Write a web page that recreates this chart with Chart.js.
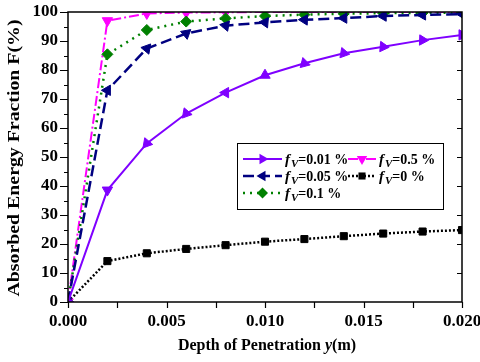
<!DOCTYPE html>
<html>
<head>
<meta charset="utf-8">
<script src="https://cdn.jsdelivr.net/npm/chart.js@4/dist/chart.umd.min.js"></script>
<style>
  html, body { margin: 0; padding: 0; background: #fff; }
  #wrap { width: 480px; height: 362px; }
</style>
</head>
<body>
<div id="wrap"><canvas id="c" width="480" height="362"></canvas></div>
<script>
// depth of penetration y (m)
const depth = [0, 0.002, 0.004, 0.006, 0.008, 0.010, 0.012, 0.014, 0.016, 0.018, 0.020];

// absorbed energy fraction F (%) for each volume fraction f_V
const f001 = [0, 38.6, 54.7, 65.0, 72.2, 78.2, 82.3, 85.8, 88.0, 90.3, 92.1];
const f005 = [0, 73.0, 87.4, 92.6, 95.3, 96.4, 97.3, 97.9, 98.6, 99.0, 99.3];
const f01  = [0, 85.4, 93.8, 96.7, 97.8, 98.6, 99.1, 99.4, 99.6, 99.7, 99.8];
const f05  = [0, 97.0, 99.5, 99.8, 99.9, 100, 100, 100, 100, 100, 100];
const f0   = [0, 14.1, 16.8, 18.3, 19.6, 20.8, 21.7, 22.7, 23.6, 24.3, 24.8];

const seriesNames = ['0.01', '0.05', '0.1', '0.5', '0'];

const xTicks = [0, 0.005, 0.010, 0.015, 0.020];
const yTicks = [0, 10, 20, 30, 40, 50, 60, 70, 80, 90, 100];

const FONT = "'Liberation Serif', 'Times New Roman', serif";

function pts(ys) {
    return ys.map((v, i) => ({ x: depth[i], y: v }));
}

const datasets = [
    { label: seriesNames[0], data: pts(f001), borderColor: '#7f00ff', backgroundColor: '#7f00ff',
      borderWidth: 2, borderDash: [], pointStyle: 'triangle', pointRadius: 6,
      pointRotation: [90, 180, 220, 220, 150, 120, 105, 100, 95, 92, 90] },
    { label: seriesNames[1], data: pts(f005), borderColor: '#000080', backgroundColor: '#000080',
      borderWidth: 2.5, borderDash: [11, 5], pointStyle: 'triangle', pointRadius: 6,
      pointRotation: [270, 30, 40, 290, 280, 275, 272, 270, 270, 270, 270] },
    { label: seriesNames[2], data: pts(f01), borderColor: '#008000', backgroundColor: '#008000',
      borderWidth: 2.5, borderDash: [2, 5], pointStyle: 'rectRot', pointRadius: 5.5, pointRotation: 0 },
    { label: seriesNames[3], data: pts(f05), borderColor: '#ff00ff', backgroundColor: '#ff00ff',
      borderWidth: 2, borderDash: [10, 3, 2, 3], pointStyle: 'triangle', pointRadius: 6, pointRotation: 180 },
    { label: seriesNames[4], data: pts(f0), borderColor: '#000000', backgroundColor: '#000000',
      borderWidth: 2.5, borderDash: [2, 2], pointStyle: 'rect', pointRadius: 5, pointRotation: 0 }
];
datasets.forEach(d => { d.tension = 0; d.pointBorderWidth = 1; d.fill = false; });

function marker(ctx, style, x, y, r, rotDeg) {
    const rad = rotDeg * Math.PI / 180;
    ctx.beginPath();
    if (style === 'triangle') {
        for (let k = 0; k < 3; k++) {
            const a = rad + k * 2 * Math.PI / 3;
            const px = x + Math.sin(a) * r, py = y - Math.cos(a) * r;
            if (k === 0) ctx.moveTo(px, py); else ctx.lineTo(px, py);
        }
    } else if (style === 'rectRot') {
        ctx.moveTo(x, y - r); ctx.lineTo(x + r, y); ctx.lineTo(x, y + r); ctx.lineTo(x - r, y);
    } else {
        const s = r * Math.SQRT1_2;
        ctx.rect(x - s, y - s, 2 * s, 2 * s);
    }
    ctx.closePath();
    ctx.fill();
}

// "f_V=..." with italic f and subscript V
function drawFv(ctx, x, y, value) {
    ctx.textBaseline = 'alphabetic';
    ctx.textAlign = 'left';
    ctx.font = 'italic bold 15px ' + FONT;
    ctx.fillText('f', x, y);
    x += ctx.measureText('f').width + 1;
    ctx.font = 'italic bold 11px ' + FONT;
    ctx.fillText('V', x, y + 3);
    x += ctx.measureText('V').width;
    ctx.font = 'bold 14px ' + FONT;
    ctx.fillText('=' + value + ' %', x, y);
}

const frame = {
    id: 'frame',
    afterDraw(chart) {
        const ctx = chart.ctx;
        const a = chart.chartArea;
        const xs = chart.scales.x, ys = chart.scales.y;
        ctx.save();
        ctx.strokeStyle = '#000';
        ctx.fillStyle = '#000';
        ctx.lineWidth = 1.5;
        ctx.setLineDash([]);
        ctx.strokeRect(a.left, a.top, a.right - a.left, a.bottom - a.top);

        ctx.lineWidth = 1.2;
        ctx.beginPath();
        for (let v = 0; v <= 100; v += 5) {
            const py = Math.round(ys.getPixelForValue(v)) + 0.5;
            const len = v % 10 === 0 ? 8 : 4;
            ctx.moveTo(a.left - len, py); ctx.lineTo(a.left, py);
            if (v % 10 === 0 && v > 0 && v < 100) { ctx.moveTo(a.right, py); ctx.lineTo(a.right - 5, py); }
        }
        for (let v = 0; v <= 0.0201; v += 0.0025) {
            const px = Math.round(xs.getPixelForValue(v)) + 0.5;
            ctx.moveTo(px, a.bottom); ctx.lineTo(px, a.bottom + 6);
        }
        ctx.stroke();

        // axis titles
        ctx.textBaseline = 'middle';
        ctx.font = 'bold 16px ' + FONT;
        const t1 = 'Depth of Penetration ', t2 = 'y', t3 = '(m)';
        const w1 = ctx.measureText(t1).width, w3 = ctx.measureText(t3).width;
        ctx.font = 'italic bold 16px ' + FONT;
        const w2 = ctx.measureText(t2).width;
        let tx = (a.left + a.right) / 2 - (w1 + w2 + w3) / 2 + 2;
        const ty = 346;
        ctx.textAlign = 'left';
        ctx.font = 'bold 16px ' + FONT; ctx.fillText(t1, tx, ty); tx += w1;
        ctx.font = 'italic bold 16px ' + FONT; ctx.fillText(t2, tx, ty); tx += w2;
        ctx.font = 'bold 16px ' + FONT; ctx.fillText(t3, tx, ty);

        // vertical title, stretched along its run to span the plot height
        const yTitle = 'Absorbed Energy Fraction F(%)';
        ctx.save();
        ctx.translate(15, (a.top + a.bottom) / 2 + 1);
        ctx.rotate(-Math.PI / 2);
        ctx.font = 'bold 17px ' + FONT;
        ctx.scale(277 / ctx.measureText(yTitle).width, 1);
        ctx.textAlign = 'center';
        ctx.fillText(yTitle, 0, 0);
        ctx.restore();

        // legend box
        const box = { l: 237, t: 143, r: 443, b: 209 };
        ctx.fillStyle = '#fff';
        ctx.fillRect(box.l, box.t, box.r - box.l, box.b - box.t);
        ctx.lineWidth = 1;
        ctx.strokeStyle = '#000';
        ctx.strokeRect(box.l + 0.5, box.t + 0.5, box.r - box.l, box.b - box.t);

        const slots = [
            { i: 0, x0: 243, x1: 282, ty: 159 },
            { i: 1, x0: 243, x1: 282, ty: 176 },
            { i: 2, x0: 243, x1: 282, ty: 193 },
            { i: 3, x0: 348, x1: 376, ty: 159 },
            { i: 4, x0: 348, x1: 376, ty: 176 }
        ];
        const legendRot = [90, 270, 0, 180, 0];
        slots.forEach(s => {
            const d = chart.data.datasets[s.i];
            ctx.strokeStyle = d.borderColor;
            ctx.fillStyle = d.backgroundColor;
            ctx.lineWidth = d.borderWidth;
            ctx.setLineDash(d.borderDash);
            ctx.beginPath();
            ctx.moveTo(s.x0, s.ty); ctx.lineTo(s.x1, s.ty);
            ctx.stroke();
            ctx.setLineDash([]);
            marker(ctx, d.pointStyle, (s.x0 + s.x1) / 2, s.ty, d.pointRadius, legendRot[s.i]);
            ctx.fillStyle = '#000';
            drawFv(ctx, s.x1 + 3, s.ty + 5, d.label);
        });
        ctx.restore();
    }
};

new Chart(document.getElementById('c'), {
    type: 'line',
    data: { datasets: datasets },
    options: {
        responsive: false,
        animation: false,
        devicePixelRatio: 1,
        layout: { padding: { top: 12, right: 18, left: 0, bottom: 0 } },
        plugins: { legend: { display: false }, tooltip: { enabled: false } },
        scales: {
            x: {
                type: 'linear', min: 0, max: 0.02,
                afterBuildTicks: s => { s.ticks = xTicks.map(v => ({ value: v })); },
                afterFit: s => { s.height = 60; s.paddingLeft = 0; s.paddingRight = 0; },
                grid: { display: true, drawOnChartArea: false, drawTicks: false, color: 'rgba(0,0,0,0)' },
                border: { display: false },
                ticks: {
                    padding: 9, color: '#000', maxRotation: 0,
                    font: { family: FONT, weight: 'bold', size: 17 },
                    callback: v => v.toFixed(3)
                }
            },
            y: {
                min: 0, max: 100,
                afterBuildTicks: s => { s.ticks = yTicks.map(v => ({ value: v })); },
                afterFit: s => { s.width = 68; s.paddingTop = 0; s.paddingBottom = 0; },
                grid: { display: true, drawOnChartArea: false, drawTicks: false, color: 'rgba(0,0,0,0)' },
                border: { display: false },
                ticks: {
                    padding: 10, color: '#000',
                    font: { family: FONT, weight: 'bold', size: 17 }
                }
            }
        }
    },
    plugins: [frame]
});
</script>
</body>
</html>
